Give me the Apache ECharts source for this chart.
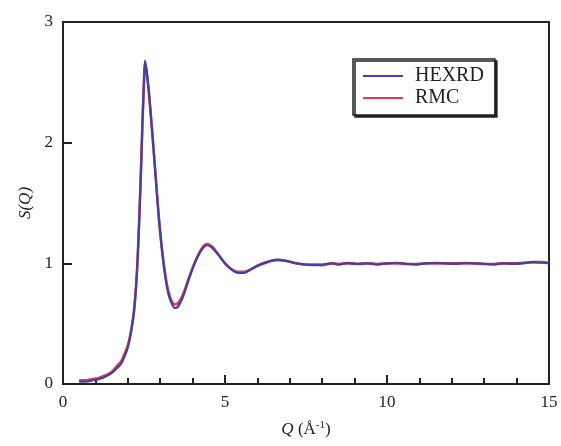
<!DOCTYPE html>
<html>
<head>
<meta charset="utf-8">
<script src="https://cdn.jsdelivr.net/npm/echarts@6/dist/echarts.min.js"></script>
<style>
    html, body {margin: 0; padding: 0; background: #fff;}
    #chart {width: 561px; height: 446px;}
</style>
</head>
<body>
<div id="chart"></div>
<script>
// Q values (1/Å) and S(Q)
var aQ = [0.5, 0.7, 0.9, 1.1, 1.3, 1.5, 1.7, 1.8, 1.9, 2.0, 2.1, 2.2, 2.3, 2.4, 2.45, 2.5, 2.53, 2.58, 2.65, 2.75,
    2.85, 2.95, 3.05, 3.15, 3.25, 3.35, 3.45, 3.55, 3.7, 3.9, 4.1, 4.3, 4.45, 4.6, 4.8, 5.0, 5.2, 5.4, 5.6, 5.8,
    6.0, 6.3, 6.6, 6.9, 7.2, 7.5, 7.8, 8.0, 8.3, 8.5, 8.8, 9.1, 9.4, 9.7, 10.0, 10.3, 10.6, 10.9, 11.2, 11.5,
    11.8, 12.1, 12.4, 12.7, 13.0, 13.3, 13.6, 13.9, 14.2, 14.5, 14.8, 15.0];
var aHexrd = [0.02, 0.02, 0.03, 0.04, 0.06, 0.09, 0.14, 0.17, 0.23, 0.30, 0.43, 0.62, 1.02, 1.72, 2.15, 2.52, 2.68, 2.6, 2.42, 2.1,
    1.75, 1.4, 1.12, 0.9, 0.75, 0.67, 0.63, 0.64, 0.72, 0.88, 1.02, 1.12, 1.15, 1.13, 1.07, 1.0, 0.95, 0.92, 0.92, 0.95,
    0.98, 1.01, 1.03, 1.02, 1.0, 0.99, 0.985, 0.99, 1.0, 0.99, 1.005, 0.995, 1.0, 0.99, 1.0, 1.005, 0.995, 0.99, 1.0, 1.005,
    1.0, 0.995, 1.005, 1.0, 0.995, 0.99, 1.0, 0.995, 1.0, 1.01, 1.005, 1.0];
var aRmc = [0.03, 0.03, 0.04, 0.05, 0.07, 0.10, 0.16, 0.19, 0.25, 0.32, 0.44, 0.63, 1.02, 1.71, 2.14, 2.5, 2.66, 2.59, 2.42, 2.1,
    1.76, 1.41, 1.13, 0.92, 0.77, 0.69, 0.66, 0.67, 0.74, 0.89, 1.03, 1.13, 1.16, 1.14, 1.07, 1.0, 0.95, 0.93, 0.93, 0.95,
    0.98, 1.01, 1.025, 1.02, 1.0, 0.99, 0.99, 0.985, 1.0, 0.995, 1.0, 0.995, 1.0, 0.995, 1.0, 1.0, 0.995, 0.995, 1.0, 1.0,
    1.0, 1.0, 1.0, 1.0, 0.995, 0.995, 1.0, 1.0, 1.005, 1.01, 1.01, 1.005];
var aLegend = ['HEXRD', 'RMC'];

function Pairs(aX, aY) {
    var aOut = [];
    for (var i = 0; i < aX.length; i++) {
        aOut.push([aX[i], aY[i]]);
    }
    return aOut;
}

var sFont = '"Liberation Serif", "Times New Roman", serif';

var jOption = {
    backgroundColor: '#fff',
    animation: false,
    textStyle: {fontFamily: sFont},
    grid: {
        left: 63, right: 12, top: 22, bottom: 62,
        show: true, borderColor: '#222', borderWidth: 2
    },
    legend: {
        data: aLegend,
        orient: 'vertical',
        left: 353, top: 59,
        itemWidth: 40, itemHeight: 2, itemGap: 2,
        padding: [7, 11, 7, 10],
        backgroundColor: '#fff',
        borderColor: '#222', borderWidth: 1.5,
        shadowColor: '#222', shadowOffsetX: 2, shadowOffsetY: 2, shadowBlur: 0,
        textStyle: {fontFamily: sFont, fontSize: 20, lineHeight: 20, color: '#222', padding: [0, 0, 0, 7]},
        icon: 'rect'
    },
    xAxis: {
        type: 'value', min: 0, max: 15, interval: 5,
        name: '{i|Q} (Å{s|-1})',
        nameLocation: 'middle', nameGap: 36,
        nameTextStyle: {
            fontFamily: sFont, fontSize: 17, color: '#222',
            rich: {
                i: {fontFamily: sFont, fontSize: 17, fontStyle: 'italic', color: '#222'},
                s: {fontFamily: sFont, fontSize: 11, verticalAlign: 'top', padding: [0, 0, 8, 0], color: '#222'}
            }
        },
        axisLine: {lineStyle: {color: '#222', width: 2}},
        axisTick: {inside: true, length: 9, lineStyle: {color: '#222', width: 2}},
        minorTick: {show: true, splitNumber: 5, length: 6, lineStyle: {color: '#222', width: 2}},
        axisLabel: {fontFamily: sFont, fontSize: 17, color: '#222', margin: 10},
        splitLine: {show: false}
    },
    yAxis: {
        type: 'value', min: 0, max: 3, interval: 1,
        name: 'S(Q)',
        nameLocation: 'middle', nameGap: 28,
        nameTextStyle: {fontFamily: sFont, fontSize: 17, fontStyle: 'italic', color: '#222'},
        axisLine: {lineStyle: {color: '#222', width: 2}},
        axisTick: {inside: true, length: 9, lineStyle: {color: '#222', width: 2}},
        axisLabel: {fontFamily: sFont, fontSize: 17, color: '#222', margin: 10},
        splitLine: {show: false}
    },
    series: [
        {
            name: 'HEXRD', type: 'line', smooth: 0.3, showSymbol: false, z: 3,
            data: Pairs(aQ, aHexrd),
            lineStyle: {color: '#3f429e', width: 2.2},
            itemStyle: {color: '#3f429e'}
        },
        {
            name: 'RMC', type: 'line', smooth: 0.3, showSymbol: false, z: 2,
            data: Pairs(aQ, aRmc),
            lineStyle: {color: '#e23a55', width: 2.6},
            itemStyle: {color: '#e23a55'}
        }
    ]
};

var myChart = echarts.init(document.getElementById('chart'));
myChart.setOption(jOption);
</script>
</body>
</html>
